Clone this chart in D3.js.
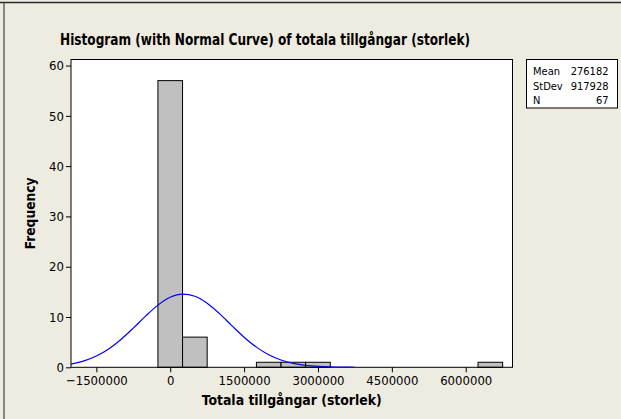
<!DOCTYPE html>
<html>
<head>
<meta charset="utf-8">
<script src="https://cdn.jsdelivr.net/npm/d3@7"></script>
<style>
  html, body { margin: 0; padding: 0; background: #eeebe1; overflow: hidden; }
  svg { display: block; }
  text { font-family: "DejaVu Sans Condensed", "DejaVu Sans", sans-serif; fill: #000; }
</style>
</head>
<body>
<svg id="chart" width="621" height="419"></svg>
<script>
// histogram bins (midpoints) and counts
const binMids = [0, 500000, 2000000, 2500000, 3000000, 6500000];
const binCounts = [57, 6, 1, 1, 1, 1];
const binWidth = 500000;

// fitted normal curve
const curveX = [-2015000, -1750000, -1500000, -1250000, -1000000, -750000, -500000, -250000,
  0, 250000, 500000, 750000, 1000000, 1250000, 1500000, 1750000, 2000000, 2250000,
  2500000, 2750000, 3000000, 3250000, 3500000, 3750000];
const curveY = [0.64, 1.27, 2.24, 3.65, 5.54, 7.79, 10.18, 12.36,
  13.92, 14.55, 14.13, 12.74, 10.67, 8.29, 5.99, 4.01, 2.50, 1.44,
  0.77, 0.39, 0.18, 0.08, 0.03, 0.01];

const xTicks = [-1500000, 0, 1500000, 3000000, 4500000, 6000000];
const yTicks = [0, 10, 20, 30, 40, 50, 60];

const statLabels = ['Mean', 'StDev', 'N'];
const statValues = ['276182', '917928', '67'];

const svg = d3.select('#chart');
const plot = { left: 71, right: 512.5, top: 59.5, bottom: 367.3 };

const x = d3.scaleLinear().domain([-2015000, 6950000]).range([plot.left, plot.right]);
const y = d3.scaleLinear().domain([0, 61.2]).range([plot.bottom, plot.top]);

// outer frame (top and left edges)
svg.append('line').attr('x1', 0).attr('x2', 621).attr('y1', 2.5).attr('y2', 2.5)
  .attr('stroke', '#2a2a2a').attr('stroke-width', 1.5);
svg.append('line').attr('x1', 4).attr('x2', 4).attr('y1', 2).attr('y2', 419)
  .attr('stroke', '#444').attr('stroke-width', 1.2);

svg.append('rect')
  .attr('x', plot.left).attr('y', plot.top)
  .attr('width', plot.right - plot.left).attr('height', plot.bottom - plot.top)
  .attr('fill', '#fff');

svg.append('clipPath').attr('id', 'clip')
  .append('rect')
  .attr('x', plot.left).attr('y', plot.top)
  .attr('width', plot.right - plot.left).attr('height', plot.bottom - plot.top);

const bins = binMids.map((m, i) => ({ mid: m, count: binCounts[i] }));

svg.append('g').selectAll('rect')
  .data(bins)
  .join('rect')
  .attr('x', d => x(d.mid - binWidth / 2))
  .attr('y', d => y(d.count))
  .attr('width', d => x(d.mid + binWidth / 2) - x(d.mid - binWidth / 2))
  .attr('height', d => y(0) - y(d.count))
  .attr('fill', '#c0c0c0')
  .attr('stroke', '#000')
  .attr('stroke-width', 1);

const line = d3.line()
  .x(d => x(d[0]))
  .y(d => y(d[1]))
  .curve(d3.curveMonotoneX);

svg.append('path')
  .datum(curveX.map((v, i) => [v, curveY[i]]))
  .attr('clip-path', 'url(#clip)')
  .attr('d', line)
  .attr('fill', 'none')
  .attr('stroke', '#0000ff')
  .attr('stroke-width', 1.2);

svg.append('rect')
  .attr('x', plot.left).attr('y', plot.top)
  .attr('width', plot.right - plot.left).attr('height', plot.bottom - plot.top)
  .attr('fill', 'none')
  .attr('stroke', '#000')
  .attr('stroke-width', 1);

const xAxis = svg.append('g')
  .attr('transform', `translate(0,${plot.bottom})`)
  .call(d3.axisBottom(x).tickValues(xTicks).tickFormat(d3.format('d')).tickSize(5).tickSizeOuter(0).tickPadding(3));
xAxis.select('.domain').remove();
xAxis.selectAll('text').attr('font-size', 13).attr('font-family', null);
xAxis.selectAll('line').attr('stroke', '#000');

const yAxis = svg.append('g')
  .attr('transform', `translate(${plot.left},0)`)
  .call(d3.axisLeft(y).tickValues(yTicks).tickSize(5).tickSizeOuter(0).tickPadding(2));
yAxis.select('.domain').remove();
yAxis.selectAll('text').attr('font-size', 13).attr('font-family', null);
yAxis.selectAll('line').attr('stroke', '#000');

// title and axis labels
svg.append('text')
  .attr('x', 265).attr('y', 45)
  .attr('text-anchor', 'middle')
  .attr('font-size', 15).attr('font-weight', 'bold')
  .attr('textLength', 410).attr('lengthAdjust', 'spacingAndGlyphs')
  .text('Histogram (with Normal Curve) of totala tillgångar (storlek)');

svg.append('text')
  .attr('x', (plot.left + plot.right) / 2).attr('y', 405)
  .attr('text-anchor', 'middle')
  .attr('font-size', 14).attr('font-weight', 'bold')
  .attr('textLength', 180).attr('lengthAdjust', 'spacingAndGlyphs')
  .text('Totala tillgångar (storlek)');

svg.append('text')
  .attr('transform', `translate(35,${(plot.top + plot.bottom) / 2}) rotate(-90)`)
  .attr('text-anchor', 'middle')
  .attr('font-size', 14).attr('font-weight', 'bold')
  .attr('textLength', 72).attr('lengthAdjust', 'spacingAndGlyphs')
  .text('Frequency');

// stats box
const box = svg.append('g');
box.append('rect')
  .attr('x', 526.5).attr('y', 59.5).attr('width', 91).attr('height', 48.5)
  .attr('fill', '#fff').attr('stroke', '#000').attr('stroke-width', 1);
box.selectAll('text.lab')
  .data(statLabels)
  .join('text')
  .attr('class', 'lab')
  .attr('x', 533)
  .attr('y', (d, i) => 75 + i * 14.5)
  .attr('font-size', 11)
  .text(d => d);
box.selectAll('text.val')
  .data(statValues)
  .join('text')
  .attr('class', 'val')
  .attr('x', 608.5)
  .attr('y', (d, i) => 75 + i * 14.5)
  .attr('text-anchor', 'end')
  .attr('font-size', 11)
  .text(d => d);
</script>
</body>
</html>
